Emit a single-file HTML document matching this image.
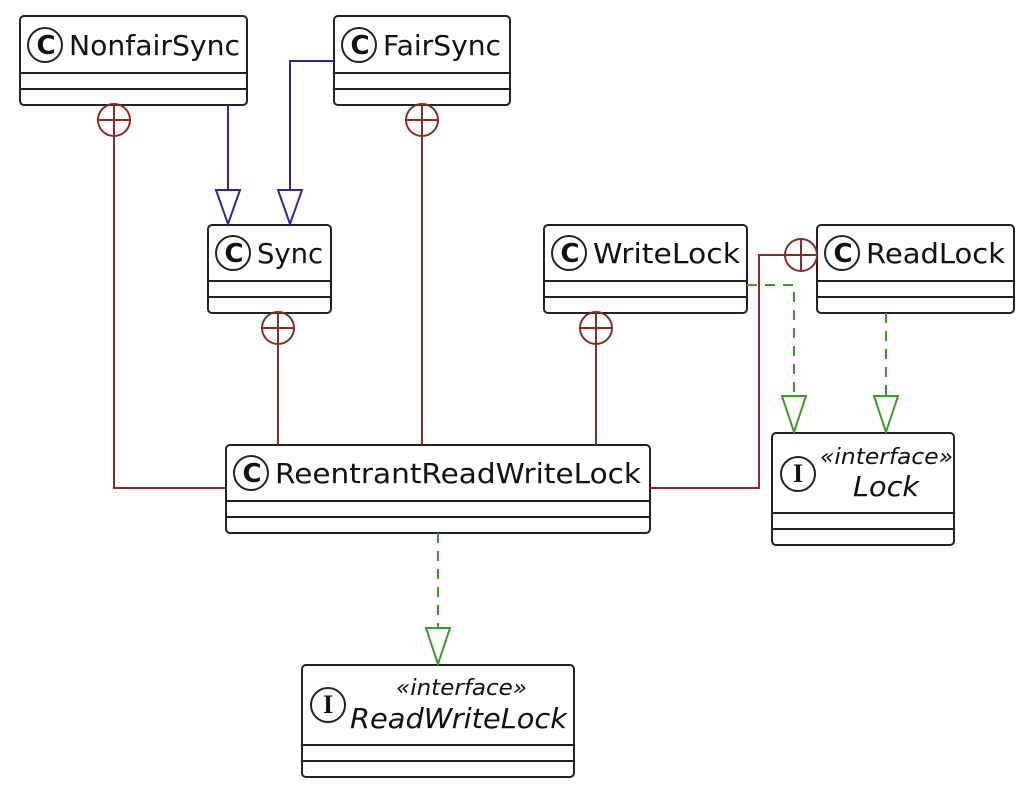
<!DOCTYPE html>
<html><head><style>html,body{margin:0;padding:0;background:#fff;}svg{display:block}</style></head>
<body>
<svg width="1034" height="806" xmlns="http://www.w3.org/2000/svg" font-family="DejaVu Sans, Liberation Sans, sans-serif">
<g fill="none" stroke="#222" stroke-width="2">
<rect x="20" y="16" width="227" height="89" rx="4"/><line x1="20" y1="73" x2="247" y2="73"/><line x1="20" y1="89" x2="247" y2="89"/>
<rect x="334" y="16" width="176" height="89" rx="4"/><line x1="334" y1="73" x2="510" y2="73"/><line x1="334" y1="89" x2="510" y2="89"/>
<rect x="208" y="225" width="123" height="88" rx="4"/><line x1="208" y1="281" x2="331" y2="281"/><line x1="208" y1="297" x2="331" y2="297"/>
<rect x="544" y="225" width="203" height="88" rx="4"/><line x1="544" y1="281" x2="747" y2="281"/><line x1="544" y1="297" x2="747" y2="297"/>
<rect x="817" y="225" width="197" height="88" rx="4"/><line x1="817" y1="281" x2="1014" y2="281"/><line x1="817" y1="297" x2="1014" y2="297"/>
<rect x="226" y="445" width="424" height="88" rx="4"/><line x1="226" y1="501" x2="650" y2="501"/><line x1="226" y1="517" x2="650" y2="517"/>
<rect x="772" y="433" width="182" height="112" rx="4"/><line x1="772" y1="513" x2="954" y2="513"/><line x1="772" y1="529" x2="954" y2="529"/>
<rect x="302" y="665" width="272" height="112" rx="4"/><line x1="302" y1="745" x2="574" y2="745"/><line x1="302" y1="761" x2="574" y2="761"/>
<circle cx="45" cy="45" r="17"/><circle cx="359" cy="45" r="17"/><circle cx="233" cy="253" r="17"/>
<circle cx="569" cy="253" r="17"/><circle cx="842" cy="253" r="17"/><circle cx="251" cy="473" r="17"/>
<circle cx="798" cy="474" r="17"/><circle cx="328" cy="705" r="17"/>
</g>
<g font-size="26" font-weight="bold" fill="#111" text-anchor="middle">
<text x="46" y="54">C</text><text x="360" y="54">C</text><text x="234" y="262">C</text>
<text x="570" y="262">C</text><text x="843" y="262">C</text><text x="252" y="482">C</text>
<text x="798" y="482" font-family="Liberation Serif, serif">I</text><text x="328" y="713" font-family="Liberation Serif, serif">I</text>
</g>
<g font-size="28" fill="#111">
<text x="69" y="55" textLength="171" lengthAdjust="spacingAndGlyphs">NonfairSync</text>
<text x="383" y="55" textLength="118" lengthAdjust="spacingAndGlyphs">FairSync</text>
<text x="257" y="263" textLength="66" lengthAdjust="spacingAndGlyphs">Sync</text>
<text x="593" y="263" textLength="147" lengthAdjust="spacingAndGlyphs">WriteLock</text>
<text x="866" y="263" textLength="139" lengthAdjust="spacingAndGlyphs">ReadLock</text>
<text x="275" y="483" textLength="366" lengthAdjust="spacingAndGlyphs">ReentrantReadWriteLock</text>
</g>
<g fill="#111" font-style="italic">
<text x="820" y="464" font-size="22" textLength="133" lengthAdjust="spacingAndGlyphs">«interface»</text>
<text x="853" y="496" font-size="28" textLength="66" lengthAdjust="spacingAndGlyphs">Lock</text>
<text x="396" y="695" font-size="22" textLength="131" lengthAdjust="spacingAndGlyphs">«interface»</text>
<text x="350" y="728" font-size="28" textLength="217" lengthAdjust="spacingAndGlyphs">ReadWriteLock</text>
</g>
<g fill="none" stroke="#2a2aa0" stroke-width="2">
<path d="M228 105V190"/><path d="M216 190H240L228 224Z"/>
<path d="M334 61H290V190"/><path d="M278 190H302L290 224Z"/>
</g>
<g fill="none" stroke="#8b2a22" stroke-width="2">
<circle cx="114" cy="120" r="16"/><path d="M98 120H130M114 104V488H226"/>
<circle cx="422" cy="120" r="16"/><path d="M406 120H438M422 104V445"/>
<circle cx="278" cy="328" r="16"/><path d="M262 328H294M278 312V445"/>
<circle cx="596" cy="328" r="16"/><path d="M580 328H612M596 312V445"/>
<circle cx="801" cy="255" r="16"/><path d="M801 239V271M817 255H759V488H650"/>
</g>
<g fill="none" stroke="#3a9a2a" stroke-width="2">
<path d="M747 285H794V396" stroke-dasharray="10,8"/><path d="M782 396H806L794 432Z"/>
<path d="M886 313V396" stroke-dasharray="10,8"/><path d="M874 396H898L886 432Z"/>
<path d="M438 533V628" stroke-dasharray="10,8"/><path d="M426 628H450L438 664Z"/>
</g>
</svg>
</body></html>
